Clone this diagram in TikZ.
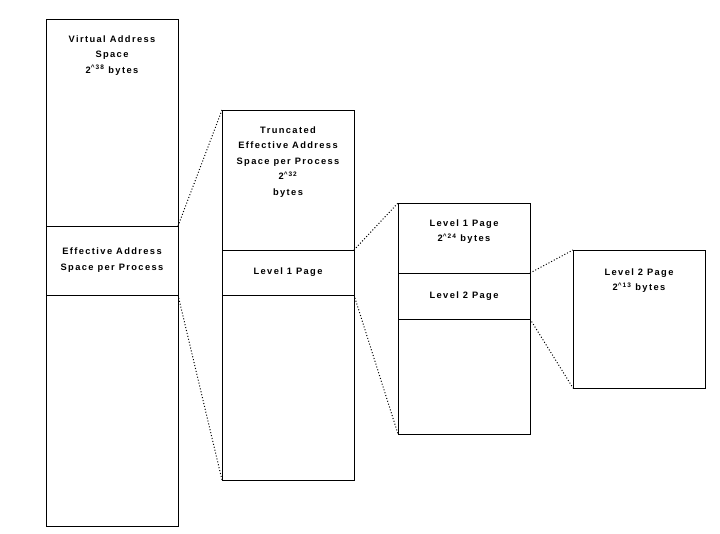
\documentclass[tikz,border=0pt]{standalone}
\usepackage{fontspec}
\setmainfont{Liberation Sans}[LetterSpace=15]
\usetikzlibrary{positioning}

\begin{document}
\begin{tikzpicture}[x=1pt,y=-1pt,
  seg/.style={draw,line width=0.9pt,minimum width=132pt,inner sep=0pt,outer sep=0pt,
              font=\bfseries\fontsize{9.3}{16}\selectfont,align=center},
  txt/.style={font=\bfseries\fontsize{9.3}{15.5}\selectfont,align=center,inner sep=0pt},
  link/.style={dotted,line width=1pt}]
\useasboundingbox (0,0) rectangle (720,534);
% virtual address space
\node[seg,minimum height=207pt,anchor=north west] (vtop) at (46,19) {};
\node[seg,minimum height=69pt,below=0pt of vtop] (vmid) {Effective Address\\Space per Process};
\node[seg,minimum height=231pt,below=0pt of vmid] (vbot) {};
\node[txt,below=16.5pt of vtop.north] (vlbl) {Virtual Address\\Space\\2\textsuperscript{\textasciicircum38} bytes};
% truncated effective address space
\node[seg,minimum height=140pt,anchor=north west] (ttop) at (222,110) {};
\node[seg,minimum height=45pt,below=0pt of ttop] (tmid) {Level 1 Page};
\node[seg,minimum height=185pt,below=0pt of tmid] (tbot) {};
\node[txt,below=16.5pt of ttop.north] (tlbl) {Truncated\\Effective Address\\Space per Process\\2\textsuperscript{\textasciicircum32}\\bytes};
% level 1 page
\node[seg,minimum height=70pt,anchor=north west] (ptop) at (398,203) {};
\node[seg,minimum height=46pt,below=0pt of ptop] (pmid) {Level 2 Page};
\node[seg,minimum height=115pt,below=0pt of pmid] (pbot) {};
\node[txt,below=16.5pt of ptop.north] (plbl) {Level 1 Page\\2\textsuperscript{\textasciicircum24} bytes};
% level 2 page
\node[seg,minimum height=138pt,anchor=north west] (qbox) at (573,250) {};
\node[txt,below=18.5pt of qbox.north] (qlbl) {Level 2 Page\\2\textsuperscript{\textasciicircum13} bytes};
% dotted zoom lines
\draw[link] (vmid.north east) -- (ttop.north west);
\draw[link] (vmid.south east) -- (tbot.south west);
\draw[link] (tmid.north east) -- (ptop.north west);
\draw[link] (tmid.south east) -- (pbot.south west);
\draw[link] (pmid.north east) -- (qbox.north west);
\draw[link] (pmid.south east) -- (qbox.south west);
\end{tikzpicture}
\end{document}
